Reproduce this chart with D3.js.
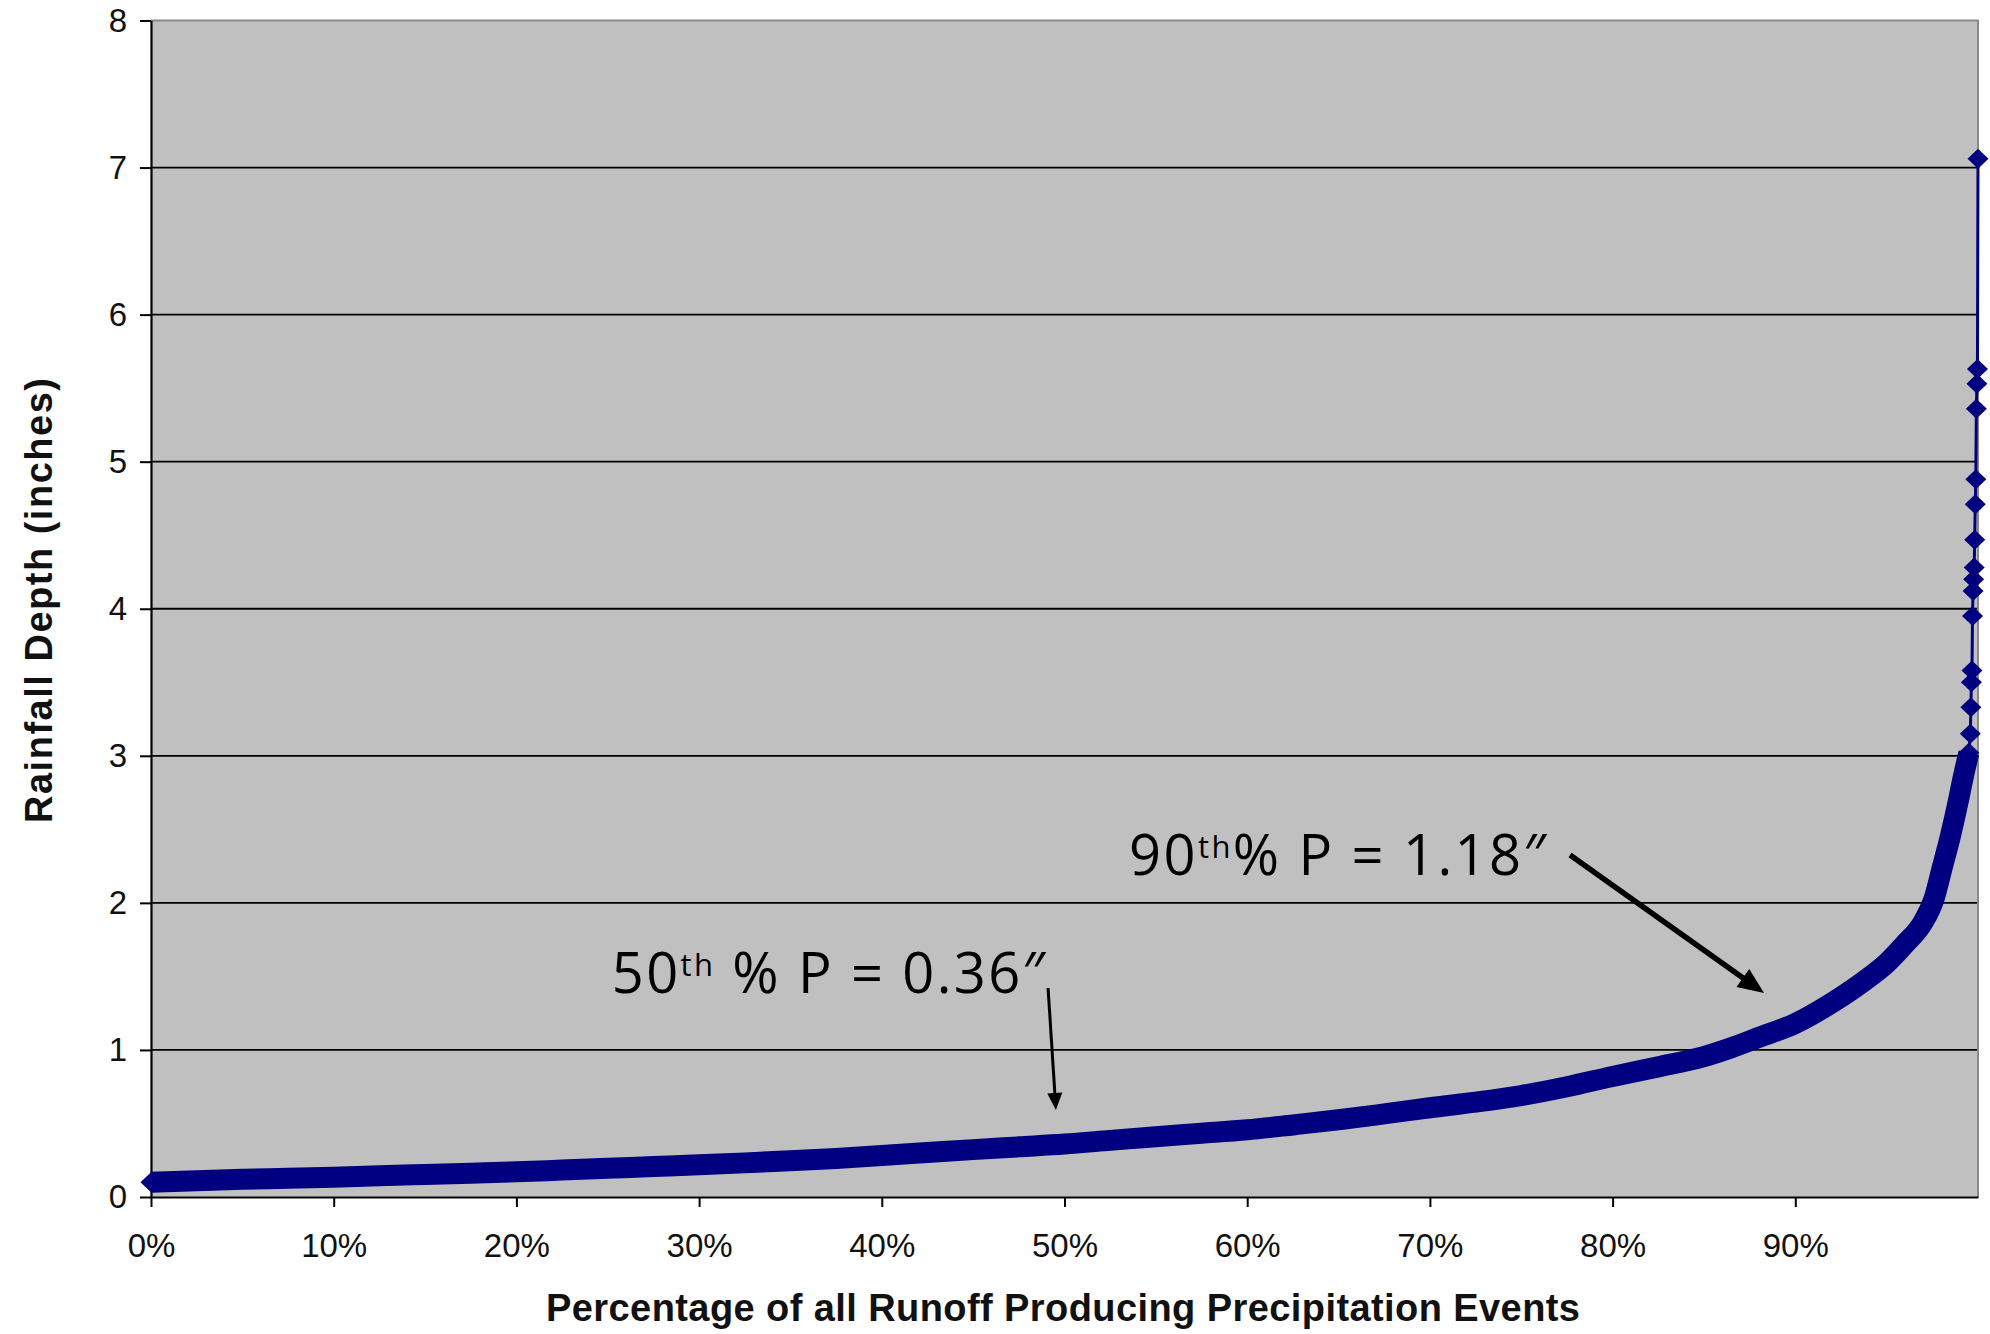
<!DOCTYPE html>
<html>
<head>
<meta charset="utf-8">
<script src="https://cdn.jsdelivr.net/npm/d3@7"></script>
<style>
  html, body { margin: 0; background: #ffffff; }
  svg { display: block; }
</style>
</head>
<body>
<svg id="chart" width="1990" height="1334"></svg>
<script>
// Sorted runoff-producing rainfall depths: share of events (%) vs depth (inches), dense body of the curve
const bandPercent = [0, 2.5, 5, 7.5, 10, 12.5, 15, 17.5, 20, 22.5, 25, 27.5, 30, 32.5, 35, 37.5,
  40, 42.5, 45, 47.5, 50, 52.5, 55, 57.5, 60, 62.5, 65, 67.5, 70, 72.5, 75, 77.5,
  80, 82.5, 85, 86.5, 88, 90, 92, 94, 95, 96, 97, 97.6, 98, 98.5, 98.9, 99.2, 99.5];
const bandDepth = [0.10, 0.11, 0.12, 0.127, 0.135, 0.144, 0.153, 0.162, 0.171, 0.183, 0.195, 0.207, 0.219, 0.232, 0.246, 0.262,
  0.282, 0.302, 0.322, 0.341, 0.36, 0.385, 0.41, 0.433, 0.457, 0.49, 0.525, 0.565, 0.607, 0.645, 0.69, 0.75,
  0.82, 0.885, 0.955, 1.015, 1.085, 1.18, 1.32, 1.49, 1.59, 1.72, 1.87, 2.03, 2.22, 2.46, 2.68, 2.86, 3.02];

// The largest individual events
const tailPercent = [99.58, 99.61, 99.64, 99.67, 99.70, 99.73, 99.76, 99.79, 99.82, 99.85, 99.88, 99.91, 99.94, 99.97, 100];
const tailDepth = [3.15, 3.33, 3.50, 3.58, 3.95, 4.12, 4.20, 4.28, 4.47, 4.71, 4.88, 5.36, 5.53, 5.63, 7.06];

const xTickValues = [0, 10, 20, 30, 40, 50, 60, 70, 80, 90];
const yTickValues = [0, 1, 2, 3, 4, 5, 6, 7, 8];
const gridValues = [1, 2, 3, 4, 5, 6, 7];

const xTitle = "Percentage of all Runoff Producing Precipitation Events";
const yTitle = "Rainfall Depth (inches)";

// Callouts for the 50th and 90th percentile depths (positions in data units)
const callouts = [
  { lead: "50", sup: "th", rest: " % P = 0.36\u2033", at: [25.22, 1.385], end: 48.94,
    from: [49.10, 1.421], to: [49.53, 0.592], width: 3, head: [17, 15] },
  { lead: "90", sup: "th", rest: "% P = 1.18\u2033", at: [53.53, 2.19], end: 76.36,
    from: [77.67, 2.326], to: [88.29, 1.387], width: 5.5, head: [26, 22] }
];

const navy = "#000080";
const plot = { left: 151, right: 1978, top: 20.5, bottom: 1197 };

const svg = d3.select("#chart");
const x = d3.scaleLinear().domain([0, 100]).range([plot.left, plot.right]);
const y = d3.scaleLinear().domain([0, 8]).range([plot.bottom, plot.top]);

// Plot area
svg.append("rect")
  .attr("x", plot.left).attr("y", plot.top)
  .attr("width", plot.right - plot.left).attr("height", plot.bottom - plot.top)
  .attr("fill", "#c0c0c0");

// Horizontal gridlines
svg.append("g").selectAll("line").data(gridValues).join("line")
  .attr("x1", plot.left).attr("x2", plot.right)
  .attr("y1", d => y(d)).attr("y2", d => y(d))
  .attr("stroke", "#000").attr("stroke-width", 1.8);

// Top and right frame
svg.append("path")
  .attr("d", `M${plot.left},${plot.top}H${plot.right}V${plot.bottom}`)
  .attr("fill", "none").attr("stroke", "#8a8a8a").attr("stroke-width", 2);

// Axes
const tickFont = "'Liberation Sans', Arial, sans-serif";
const yAxis = svg.append("g")
  .attr("transform", `translate(${plot.left},0)`)
  .call(d3.axisLeft(y).tickValues(yTickValues).tickFormat(d3.format("d"))
    .tickSize(11).tickSizeOuter(0).tickPadding(13));
const xAxis = svg.append("g")
  .attr("transform", `translate(0,${plot.bottom})`)
  .call(d3.axisBottom(x).tickValues(xTickValues).tickFormat(d => d + "%")
    .tickSize(10).tickSizeOuter(0).tickPadding(27));
[xAxis, yAxis].forEach(g => {
  g.select(".domain").attr("stroke", "#000").attr("stroke-width", 2.2);
  g.selectAll(".tick line").attr("stroke", "#000").attr("stroke-width", 2);
  g.selectAll(".tick text")
    .attr("fill", "#111")
    .style("font-family", tickFont)
    .style("font-size", "33px");
});

// Series
const bandData = bandPercent.map((p, i) => ({ p, v: bandDepth[i] }));
const tailData = tailPercent.map((p, i) => ({ p, v: tailDepth[i] }));

// Dense body: overlapping markers form a solid band
svg.append("path")
  .datum(bandData)
  .attr("d", d3.line().x(d => x(d.p)).y(d => y(d.v)).curve(d3.curveMonotoneX))
  .attr("fill", "none")
  .attr("stroke", navy)
  .attr("stroke-width", 21)
  .attr("stroke-linejoin", "round");

// Connecting line through the largest events
svg.append("path")
  .datum([bandData[bandData.length - 1]].concat(tailData))
  .attr("d", d3.line().x(d => x(d.p)).y(d => y(d.v)))
  .attr("fill", "none")
  .attr("stroke", navy)
  .attr("stroke-width", 3);

// Diamond markers
const mw = 10.5, mh = 10;
const diamond = `M0,${-mh}L${mw},0L0,${mh}L${-mw},0Z`;
svg.append("g").selectAll("path").data(bandData.concat(tailData)).join("path")
  .attr("transform", d => `translate(${x(d.p)},${y(d.v)})`)
  .attr("d", diamond)
  .attr("fill", navy);

// Axis titles
const titleFont = "'Liberation Sans', Arial, sans-serif";
svg.append("text")
  .attr("x", 1063).attr("y", 1321)
  .attr("text-anchor", "middle")
  .attr("textLength", 1034)
  .style("font-family", titleFont).style("font-weight", "bold").style("font-size", "38px")
  .attr("fill", "#111")
  .text(xTitle);
svg.append("text")
  .attr("transform", `translate(52,600.5) rotate(-90)`)
  .attr("text-anchor", "middle")
  .attr("textLength", 445)
  .style("font-family", titleFont).style("font-weight", "bold").style("font-size", "38px")
  .attr("fill", "#111")
  .text(yTitle);

// Percentile callouts
const calloutFont = "'Open Sans', 'Noto Sans', sans-serif";
callouts.forEach(c => {
  const t = svg.append("text")
    .attr("x", x(c.at[0])).attr("y", y(c.at[1]))
    .attr("textLength", x(c.end) - x(c.at[0]))
    .style("font-family", calloutFont).style("font-size", "56px")
    .attr("fill", "#000");
  t.append("tspan").text(c.lead);
  t.append("tspan").attr("dy", -17).style("font-size", "31px").text(c.sup);
  t.append("tspan").attr("dy", 17).text(c.rest);

  const x0 = x(c.from[0]), y0 = y(c.from[1]);
  const x1 = x(c.to[0]), y1 = y(c.to[1]);
  const len = Math.hypot(x1 - x0, y1 - y0);
  const ux = (x1 - x0) / len, uy = (y1 - y0) / len;
  const [hl, hw] = c.head;
  const bx = x1 - ux * hl, by = y1 - uy * hl;
  svg.append("line")
    .attr("x1", x0).attr("y1", y0)
    .attr("x2", bx + ux * 2).attr("y2", by + uy * 2)
    .attr("stroke", "#000").attr("stroke-width", c.width);
  svg.append("path")
    .attr("d", `M${x1},${y1}L${bx - uy * hw / 2},${by + ux * hw / 2}L${bx + uy * hw / 2},${by - ux * hw / 2}Z`)
    .attr("fill", "#000");
});
</script>
</body>
</html>
